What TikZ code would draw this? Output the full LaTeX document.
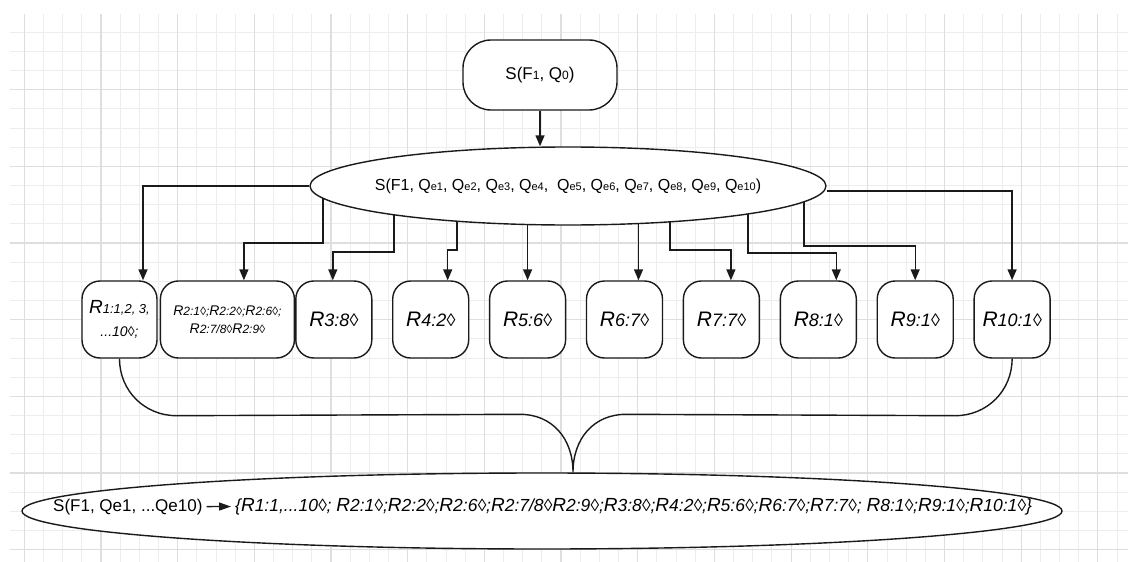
\documentclass[tikz,border=0pt]{standalone}
\usepackage{fontspec}
\setmainfont{Liberation Sans}
\usepackage{tikz}
\usetikzlibrary{arrows.meta,positioning,shapes.geometric,backgrounds,calc}
\definecolor{gridminor}{HTML}{EDEDED}
\definecolor{gridmajor}{HTML}{DEDEDE}
\definecolor{ink}{HTML}{1A1A1A}

\newcommand{\fsz}[2]{{\fontsize{#1pt}{#1pt}\selectfont #2}}
\newcommand{\qe}[1]{Q\fsz{11}{e#1}}
\newcommand{\bigR}{\fsz{21}{R}}
\newcommand{\midR}{\fsz{19}{R}}

\begin{document}
\begin{tikzpicture}[x=1pt, y=-1pt,
  term/.style={draw=ink, line width=1.4pt, fill=white, rounded corners=28pt, minimum width=154pt, minimum height=70pt, font=\fontsize{17pt}{20pt}\selectfont},
  state/.style={draw=ink, ellipse, line width=1.4pt, fill=white, inner sep=0pt},
  rbox/.style={draw=ink, line width=1.4pt, fill=white, rounded corners=18pt, minimum width=76pt, minimum height=77pt, inner sep=1pt, align=center, font=\fontsize{18pt}{20pt}\selectfont\itshape},
  arr/.style={-{Triangle[width=9pt,length=11pt]}, line width=1.4pt, draw=ink},
  brace/.style={line width=1.4pt, draw=ink},
  minor/.style={draw=gridminor, line width=0.9pt},
  major/.style={draw=gridmajor, line width=1.2pt},
  node distance=19.5pt
]
\useasboundingbox (0,0) rectangle (1128,562);

% grid paper
\begin{scope}[on background layer]
  \foreach \i in {0,...,57} \draw[minor] ({24.3+19.17*\i},14) -- ({24.3+19.17*\i},562);
  \foreach \j in {1,...,28} \draw[minor] (10,{13+19.17*\j}) -- (1128,{13+19.17*\j});
  \foreach \i in {0,...,14} \draw[major] ({24.3+76.68*\i},14) -- ({24.3+76.68*\i},562);
  \foreach \j in {1,...,7} \draw[major] (10,{13+76.68*\j}) -- (1128,{13+76.68*\j});
\end{scope}

\node[term] (start) at (540,75) {S(F\fsz{12}{1}, Q\fsz{12}{0})};
\node[state, minimum width=516pt, minimum height=78pt,
  label={[font=\fontsize{16pt}{18pt}\selectfont]center:S(F1, \qe{1}, \qe{2}, \qe{3}, \qe{4}, \ \qe{5}, \qe{6}, \qe{7}, \qe{8}, \qe{9}, \qe{10})}] (split) at (568,186) {};

% one box per rule
\node[rbox, minimum width=75pt] (r1) at (119.5,319.5) {\midR\fsz{13}{1:1,2, 3,}\\[3pt]\fsz{14}{...10◊;}};
\node[rbox, minimum width=134pt, right=2pt of r1, font=\fontsize{12pt}{18pt}\selectfont\itshape] (r2)
  {\fsz{14}{R}2:1◊;\fsz{14}{R}2:2◊;\fsz{14}{R}2:6◊;\\\fsz{14}{R}2:7/8◊\fsz{14}{R}2:9◊};
\node[rbox, right=0pt of r2] (r3) {\bigR3:8◊};
\node[rbox, right=of r3] (r4) {\bigR4:2◊};
\node[rbox, right=of r4] (r5) {\bigR5:6◊};
\node[rbox, right=of r5] (r6) {\bigR6:7◊};
\node[rbox, right=of r6] (r7) {\bigR7:7◊};
\node[rbox, right=of r7] (r8) {\bigR8:1◊};
\node[rbox, right=of r8] (r9) {\bigR9:1◊};
\node[rbox, right=of r9] (r10) {\bigR10:1◊};

% merged result
\node[state, minimum width=1040pt, minimum height=76pt] (final) at (542,511) {};
\node[anchor=base west, inner sep=1pt, font=\fontsize{17pt}{20pt}\selectfont] (lhs) at (52,511) {S(F1, Qe1, ...Qe10)};
\node[anchor=base west, inner sep=1pt, font=\fontsize{17.5pt}{20pt}\selectfont\itshape] (rhs) at (234,511)
  {\{\midR1:1,...10◊; \midR2:1◊;\midR2:2◊;\midR2:6◊;\midR2:7/8◊\midR2:9◊;\midR3:8◊;\midR4:2◊;\midR5:6◊;\midR6:7◊;\midR7:7◊; \midR8:1◊;\midR9:1◊;\midR10:1◊\}};
\draw[-{Triangle[width=8pt,length=12pt]}, line width=1.4pt, draw=ink, shorten <=3pt, shorten >=3pt] (lhs) -- (rhs);

\draw[arr] (start.south) -- (start.south |- split.north);

\coordinate (t5) at (r5.north);
\coordinate (t6) at ([xshift=14pt]r6.north);
\begin{scope}[on background layer]
  \draw[arr] (split.west) -| ([xshift=23.5pt]r1.north);
  \draw[arr] ([xshift=-245pt]split.center) -- ++(0,57) -| ([xshift=16.5pt]r2.north);
  \draw[arr] ([xshift=-174pt]split.center) -- ++(0,66) -| ([xshift=-1pt]r3.north);
  \draw[arr] ([xshift=-111pt]split.center) -- ++(0,64) -| ([xshift=17pt]r4.north);
  \draw[arr] (t5 |- split.center) -- (t5);
  \draw[arr] (t6 |- split.center) -- (t6);
  \draw[arr] ([xshift=102pt]split.center) -- ++(0,64) -| ([xshift=9.5pt]r7.north);
  \draw[arr] ([xshift=180pt]split.center) -- ++(0,67) -| ([xshift=18pt]r8.north);
  \draw[arr] ([xshift=236pt]split.center) -- ++(0,60) -| (r9.north);
  \draw[arr] ([yshift=-5pt]split.east) -| (r10.north);
\end{scope}

% brace gathering the rules
\coordinate (tip) at ([xshift=31pt]final.north);
\draw[brace] (r1.south) .. controls +(0,32) and +(-32,0) .. ($(r1.south)+(57,57)$)
  -- ($(tip)+(-53,-58)$) .. controls +(32,0) and +(0,-34) .. (tip)
  .. controls +(0,-34) and +(-32,0) .. ($(tip)+(53,-58)$)
  -- ($(r10.south)+(-57,57)$) .. controls +(32,0) and +(0,32) .. (r10.south);
\end{tikzpicture}
\end{document}
